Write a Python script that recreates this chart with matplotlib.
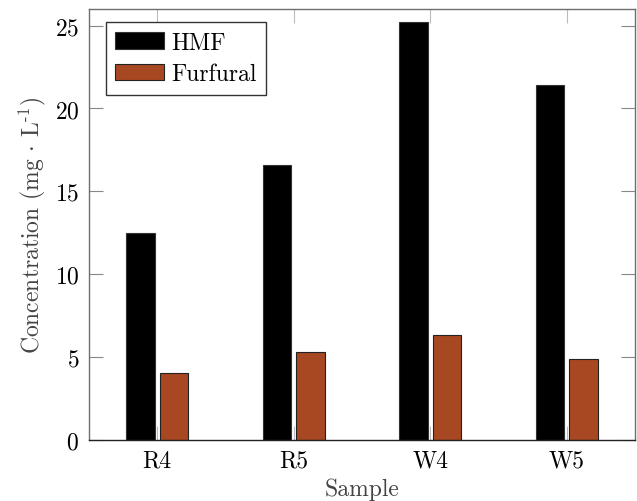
import numpy as np
import matplotlib
matplotlib.use("Agg")
from matplotlib import pyplot as plt

plt.rcParams['font.family'] = 'serif'
plt.rcParams['font.serif'] = ['cmr10', 'DejaVu Serif']
plt.rcParams['mathtext.fontset'] = 'cm'
plt.rcParams['axes.formatter.use_mathtext'] = True
plt.rcParams['font.size'] = 17

# data
samples = ['R4', 'R5', 'W4', 'W5']
hmf = [12.5, 16.6, 25.2, 21.4]
furfural = [4.05, 5.3, 6.34, 4.88]

x = np.arange(len(samples))
w = 0.21
shift = 0.122

fig = plt.figure(figsize=(6.37, 5.02), dpi=100)
ax = fig.add_axes([0.1397, 0.1215, 0.857, 0.8585])

ax.bar(x - shift, hmf, w, color='black', edgecolor='#333333', linewidth=0.8, label='HMF', zorder=2)
ax.bar(x + shift, furfural, w, color='#A84822', edgecolor='#222222', linewidth=0.8, label='Furfural', zorder=2)

ax.set_xlim(-0.5, 3.5)
ax.set_ylim(0, 26)
ax.set_xticks(x)
ax.set_xticklabels(samples)
ax.set_yticks([0, 5, 10, 15, 20, 25])

ax.tick_params(axis='both', direction='in', top=True, right=True, length=10,
               width=0.8, color='#888888', pad=7)
ax.tick_params(axis='x', color='#bbbbbb')

for s in ['left', 'right', 'top']:
    ax.spines[s].set_color('#6e6e6e')
    ax.spines[s].set_linewidth(1.0)
ax.spines['bottom'].set_color('#222222')
ax.spines['bottom'].set_linewidth(1.0)
ax.spines['bottom'].set_zorder(3)

ax.set_xlabel('Sample', color='#444444', labelpad=4)
ax.set_ylabel(r'Concentration (mg$\,\cdot\,$L$^{\text{-1}}$)', color='#444444', labelpad=5)

leg = ax.legend(loc='upper left', bbox_to_anchor=(0.031, 0.970), borderaxespad=0,
                fancybox=False, edgecolor='#333333', framealpha=1,
                handlelength=2.05, handleheight=0.7,
                borderpad=0.4, labelspacing=0.4, handletextpad=0.3)
leg.get_frame().set_linewidth(1.0)

fig.savefig('out.png', dpi=100)
